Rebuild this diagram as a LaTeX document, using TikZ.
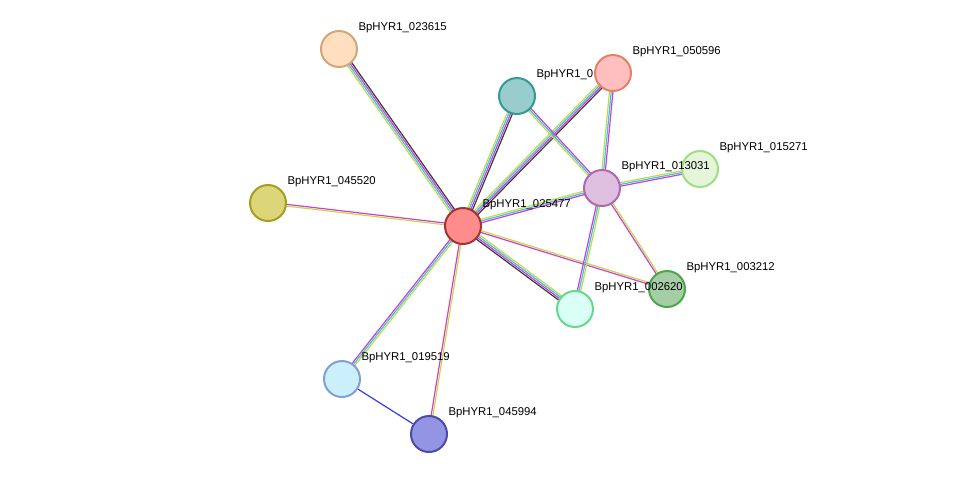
\documentclass[tikz,border=0pt]{standalone}
\usepackage{fontspec}
\setmainfont{Liberation Sans}
\usetikzlibrary{calc,backgrounds}
\definecolor{eyel}{HTML}{C4D94A}
\definecolor{emag}{HTML}{D23CD2}
\definecolor{ecya}{HTML}{3CC3E0}
\definecolor{eblk}{HTML}{3A3A3A}
\definecolor{eblu}{HTML}{3A3AE0}
\tikzset{
  nd/.style={circle,draw,line width=1.5pt,minimum size=27pt,inner sep=0pt},
  lbl/.style={anchor=south west,font=\fontsize{8.5}{9}\selectfont,inner sep=1pt},
  ed/.style={line width=0.9pt}
}
% parallel coloured lines between two nodes
\newcommand{\pedge}[3]{%
  \foreach \c [count=\i] in {#3} {\xdef\nedge{\i}}%
  \foreach \c [count=\i] in {#3} {%
    \pgfmathsetmacro{\off}{(\i-(\nedge+1)/2)*1.3}%
    \draw[ed,\c] ($(#1.center)!\off pt!90:(#2.center)$) -- ($(#2.center)!\off pt!-90:(#1.center)$);
  }%
}
\begin{document}
\begin{tikzpicture}[x=0.75pt,y=-0.75pt]
\useasboundingbox (0,0) rectangle (976,480);
% nodes
\node[nd,draw=red!55!black!80,fill=red!45] (n25477) at (463,226) {};
\node[nd,draw=brown!70,fill=orange!25] (n23615) at (339,49) {};
\node[nd,draw=olive!80,fill=yellow!30!olive!45] (n45520) at (268,203) {};
\node[nd,draw=teal!80,fill=teal!40] (n0x) at (517,96) {};
\node[nd,draw=red!40!brown!70,fill=red!25] (n50596) at (613,73) {};
\node[nd,draw=violet!60,fill=violet!25] (n13031) at (602,188) {};
\node[nd,draw=green!50!olive!50,fill=yellow!30!green!15] (n15271) at (700,169) {};
\node[nd,draw=green!50!black!70,fill=green!45!black!35!white] (n03212) at (667,289) {};
\node[nd,draw=green!50!teal!60,fill=green!20!cyan!15] (n02620) at (575,309) {};
\node[nd,draw=cyan!40!blue!50,fill=cyan!20] (n19519) at (342,379) {};
\node[nd,draw=blue!50!black!70,fill=blue!40!white!80!gray] (n45994) at (429,434) {};
% labels
\node[lbl] (l23615) at (357,34) {BpHYR1\_023615};
\node[lbl] (l45520) at (286,188) {BpHYR1\_045520};
\node[lbl] (l0x) at (535,81) {BpHYR1\_0};
\node[lbl] (l50596) at (631,58) {BpHYR1\_050596};
\node[lbl] (l13031) at (620,173) {BpHYR1\_013031};
\node[lbl] (l15271) at (718,154) {BpHYR1\_015271};
\node[lbl] (l25477) at (481,211) {BpHYR1\_025477};
\node[lbl] (l03212) at (685,274) {BpHYR1\_003212};
\node[lbl] (l02620) at (593,294) {BpHYR1\_002620};
\node[lbl] (l19519) at (360,364) {BpHYR1\_019519};
\node[lbl] (l45994) at (447,419) {BpHYR1\_045994};
% edges
\begin{pgfonlayer}{background}
\pedge{n25477}{n23615}{eblk,emag,ecya,eyel}
\pedge{n25477}{n45520}{emag,eyel}
\pedge{n25477}{n0x}{eblk,emag,ecya,eyel}
\pedge{n25477}{n50596}{eblk,emag,ecya,eyel}
\pedge{n25477}{n13031}{emag,ecya,eyel}
\pedge{n25477}{n03212}{emag,eyel}
\pedge{n25477}{n02620}{eblk,emag,ecya,eyel}
\pedge{n25477}{n19519}{emag,ecya,eyel}
\pedge{n25477}{n45994}{emag,eyel}
\pedge{n13031}{n0x}{emag,ecya,eyel}
\pedge{n13031}{n50596}{emag,ecya,eyel}
\pedge{n13031}{n15271}{emag,ecya,eyel}
\pedge{n13031}{n03212}{emag,eyel}
\pedge{n13031}{n02620}{emag,ecya,eyel}
\draw[ed,eblu] (n19519) -- (n45994);
\end{pgfonlayer}
\end{tikzpicture}
\end{document}
